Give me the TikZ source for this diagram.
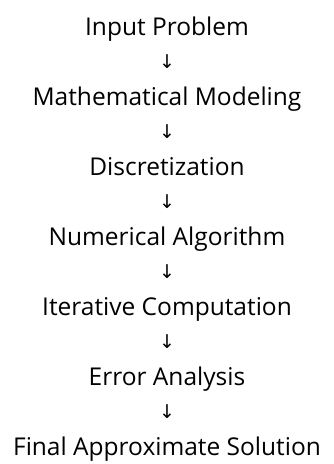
\documentclass[tikz,border=0pt]{standalone}
\usepackage{fontspec}
\setmainfont{Open Sans}
\newfontfamily\arrowfont{DejaVu Sans}
\usetikzlibrary{positioning}
\tikzset{
    % Pipeline stage labels
    stage/.style={
        font=\fontsize{24.5}{29}\selectfont, inner sep=0pt, anchor=base
    },
    % Arrow glyph between stages
    downarrow/.style={
        font=\arrowfont\fontsize{19}{22}\selectfont, inner sep=0pt, anchor=center
    }
}

\begin{document}
\begin{tikzpicture}[x=1pt,y=-1pt]
\useasboundingbox (0,0) rectangle (334,464);

% Stages
\node[stage] (input) at (167,35) {Input Problem};
\node[downarrow] (a1) at (167,62) {↓};
\node[stage] (model) at (167,105) {Mathematical Modeling};
\node[downarrow] (a2) at (167,132) {↓};
\node[stage] (discr) at (167,175) {Discretization};
\node[downarrow] (a3) at (167,202) {↓};
\node[stage] (algo) at (167,245) {Numerical Algorithm};
\node[downarrow] (a4) at (167,272) {↓};
\node[stage] (iter) at (167,315) {Iterative Computation};
\node[downarrow] (a5) at (167,342) {↓};
\node[stage] (error) at (167,385) {Error Analysis};
\node[downarrow] (a6) at (167,412) {↓};
\node[stage] (final) at (167,455) {Final Approximate Solution};

\end{tikzpicture}
\end{document}
